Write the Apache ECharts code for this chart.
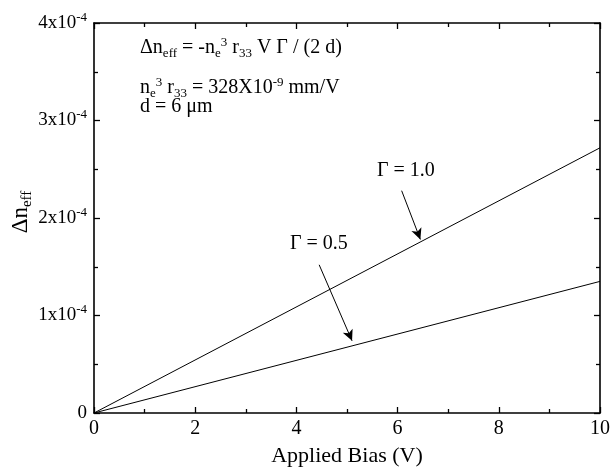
<!DOCTYPE html>
<html>
<head>
<meta charset="utf-8">
<script src="https://cdn.jsdelivr.net/npm/echarts@6/dist/echarts.min.js"></script>
<style>
html, body { margin: 0; padding: 0; background: #fff; }
#main { width: 614px; height: 473px; }
</style>
</head>
<body>
<div id="main"></div>
<script>
var FONT = '"Liberation Serif", "Times New Roman", serif';

// applied bias (V)
var bias = [0, 10];
// delta n_eff, in units of 1e-4
var dnGamma10 = [0, 2.72];
var dnGamma05 = [0, 1.35];
// y tick labels are "N x10^-4"
var yExp = '-4';

function pairs(ys) {
	return bias.map(function(v, i) { return [v, ys[i]]; });
}

var annRich = {
	n: { fontFamily: FONT, fontSize: 20, color: '#000', lineHeight: 24 },
	sub: { fontFamily: FONT, fontSize: 13, color: '#000', lineHeight: 13, verticalAlign: 'bottom' },
	sup: { fontFamily: FONT, fontSize: 13, color: '#000', lineHeight: 13, verticalAlign: 'top' }
};

var tickStyle = { show: true, inside: true, length: 6, lineStyle: { color: '#000', width: 1.3 } };
var minorStyle = { show: true, splitNumber: 2, length: 4, lineStyle: { color: '#000', width: 1.3 } };
var lineStyleAxis = { show: true, onZero: false, lineStyle: { color: '#000', width: 1.6 } };

var chart = echarts.init(document.getElementById('main'));

option = {
	animation: false,
	backgroundColor: '#fff',
	grid: {
		left: 94,
		right: 14,
		top: 23,
		bottom: 60
	},
	xAxis: [{
		type: 'value',
		min: 0,
		max: 10,
		interval: 2,
		name: 'Applied Bias (V)',
		nameLocation: 'middle',
		nameGap: 32,
		nameTextStyle: { fontFamily: FONT, fontSize: 22, color: '#000' },
		axisLine: lineStyleAxis,
		axisTick: tickStyle,
		minorTick: minorStyle,
		splitLine: { show: false },
		axisLabel: { fontFamily: FONT, fontSize: 20, color: '#000', margin: 6 }
	}, {
		type: 'value',
		position: 'top',
		min: 0,
		max: 10,
		interval: 2,
		axisLine: lineStyleAxis,
		axisTick: tickStyle,
		minorTick: minorStyle,
		splitLine: { show: false },
		axisLabel: { show: false }
	}],
	yAxis: [{
		type: 'value',
		min: 0,
		max: 4,
		interval: 1,
		axisLine: lineStyleAxis,
		axisTick: tickStyle,
		minorTick: minorStyle,
		splitLine: { show: false },
		axisLabel: {
			margin: 7,
			formatter: function(v) {
				return v === 0 ? '{b|0}' : '{b|' + v + 'x10}{s|' + yExp + '}';
			},
			rich: {
				b: { fontFamily: FONT, fontSize: 19, color: '#000', lineHeight: 24 },
				s: { fontFamily: FONT, fontSize: 13, color: '#000', lineHeight: 13, verticalAlign: 'top' }
			}
		}
	}, {
		type: 'value',
		position: 'right',
		min: 0,
		max: 4,
		interval: 1,
		axisLine: lineStyleAxis,
		axisTick: tickStyle,
		minorTick: minorStyle,
		splitLine: { show: false },
		axisLabel: { show: false }
	}],
	series: [{
		name: 'Γ = 1.0',
		type: 'line',
		data: pairs(dnGamma10),
		showSymbol: false,
		lineStyle: { color: '#000', width: 1 },
		markLine: {
			silent: true,
			symbol: ['none', 'arrow'],
			symbolSize: [8, 11],
			label: { show: false },
			lineStyle: { color: '#000', width: 1, type: 'solid' },
			data: [[{ coord: [6.08, 2.28] }, { coord: [6.45, 1.78] }]]
		}
	}, {
		name: 'Γ = 0.5',
		type: 'line',
		data: pairs(dnGamma05),
		showSymbol: false,
		lineStyle: { color: '#000', width: 1 },
		markLine: {
			silent: true,
			symbol: ['none', 'arrow'],
			symbolSize: [8, 11],
			label: { show: false },
			lineStyle: { color: '#000', width: 1, type: 'solid' },
			data: [[{ coord: [4.45, 1.52] }, { coord: [5.1, 0.74] }]]
		}
	}],
	graphic: [{
		// y axis title, rotated
		type: 'text',
		x: 21,
		y: 212,
		rotation: Math.PI / 2,
		style: {
			text: '{n|Δn}{sub|eff}',
			align: 'center',
			verticalAlign: 'middle',
			rich: {
				n: { fontFamily: FONT, fontSize: 23, color: '#000', lineHeight: 27 },
				sub: { fontFamily: FONT, fontSize: 15, color: '#000', lineHeight: 15, verticalAlign: 'bottom' }
			}
		}
	}, {
		type: 'text',
		left: 140,
		top: 36,
		style: { text: '{n|Δn}{sub|eff}{n| = -n}{sub|e}{sup|3}{n| r}{sub|33}{n| V Γ / (2 d)}', rich: annRich }
	}, {
		type: 'text',
		left: 140,
		top: 76,
		style: { text: '{n|n}{sub|e}{sup|3}{n| r}{sub|33}{n| = 328X10}{sup|-9}{n| mm/V}', rich: annRich }
	}, {
		type: 'text',
		left: 140,
		top: 97,
		style: { text: '{n|d = 6 μm}', rich: annRich }
	}, {
		type: 'text',
		left: 377,
		top: 161,
		style: { text: 'Γ = 1.0', fontFamily: FONT, fontSize: 20, fill: '#000' }
	}, {
		type: 'text',
		left: 290,
		top: 234,
		style: { text: 'Γ = 0.5', fontFamily: FONT, fontSize: 20, fill: '#000' }
	}]
};

chart.setOption(option);
</script>
</body>
</html>
